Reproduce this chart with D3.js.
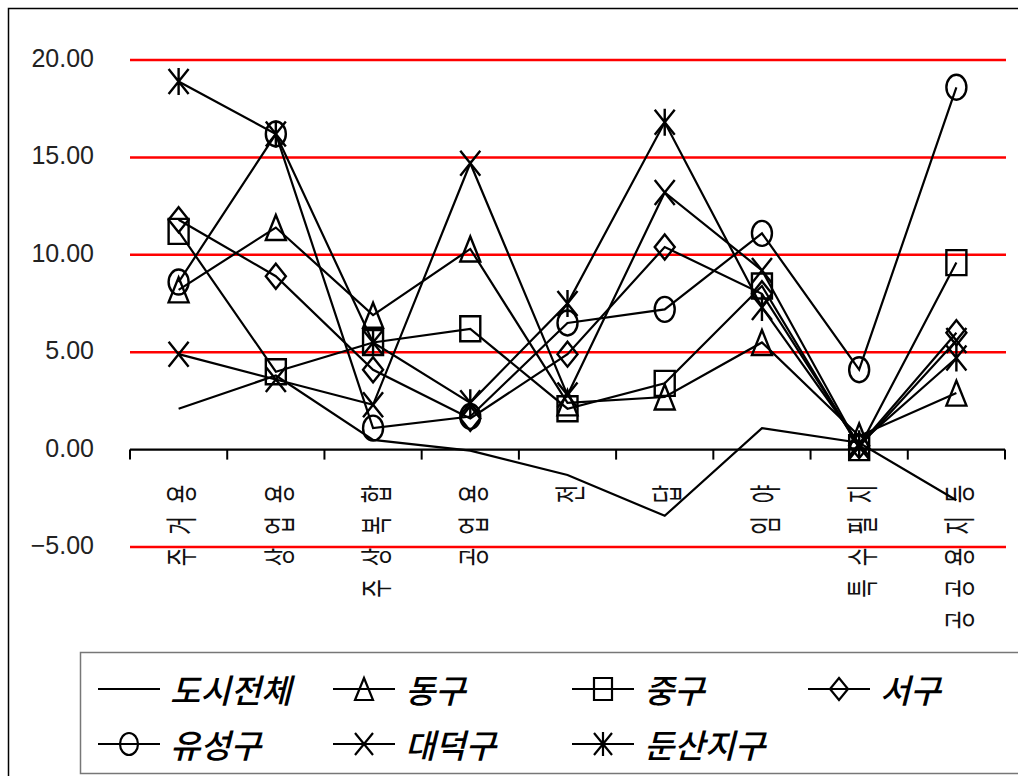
<!DOCTYPE html>
<html>
<head>
<meta charset="utf-8">
<script src="https://cdn.jsdelivr.net/npm/d3@7"></script>
<style>
  body { margin: 0; background: #fff; }
  svg { display: block; }
</style>
</head>
<body>
<svg id="chart" width="1018" height="776"></svg>
<script>
// Land-use categories along the x axis
const categories = ["주거용", "상업용", "주상복합", "공업용", "전", "답", "임야", "특수필지", "공공용지등"];

// Series values per category
const cityTotal = [2.1, 3.8, 0.5, -0.05, -1.3, -3.4, 1.1, 0.35, -2.6];
const donggu    = [8.2, 11.4, 6.9, 10.3, 2.4, 2.7, 5.5, 0.7, 2.9];
const junggu    = [11.2, 4.0, 5.5, 6.2, 2.1, 3.4, 8.4, 0.1, 9.6];
const seogu     = [11.8, 8.9, 4.1, 1.6, 4.9, 10.4, 8.0, 0.2, 6.0];
const yuseonggu = [8.6, 16.2, 1.1, 1.7, 6.5, 7.2, 11.1, 4.1, 18.6];
const daedeokgu = [4.9, 3.6, 2.3, 14.7, 2.8, 13.2, 9.2, 0.15, 5.6];
const dunsan    = [18.9, 16.2, 5.5, 2.4, 7.5, 16.8, 7.3, 0.3, 4.7];

const seriesNames = ["도시전체", "동구", "중구", "서구", "유성구", "대덕구", "둔산지구"];
const markerTypes = ["none", "triangle", "square", "diamond", "circle", "cross", "asterisk"];
const seriesValues = [cityTotal, donggu, junggu, seogu, yuseonggu, daedeokgu, dunsan];

// Value axis ticks
const yTicks = [-5, 0, 5, 10, 15, 20];

const series = seriesNames.map((name, i) => ({
  name, marker: markerTypes[i], values: seriesValues[i]
}));

const svg = d3.select("#chart");

// Outer frame (right and bottom edges run off the canvas)
svg.append("rect")
  .attr("x", 8.5).attr("y", 8.5)
  .attr("width", 1040).attr("height", 800)
  .attr("fill", "none").attr("stroke", "#000").attr("stroke-width", 1.5);

const x = d3.scaleBand().domain(categories).range([130, 1005]);
const y = d3.scaleLinear().domain([-5, 20]).range([547, 60]);
const cx = c => x(c) + x.bandwidth() / 2;

// Red horizontal gridlines (the zero line is the category axis)
svg.append("g").selectAll("line")
  .data(yTicks.filter(t => t !== 0))
  .join("line")
  .attr("x1", 130).attr("x2", 1006)
  .attr("y1", d => y(d)).attr("y2", d => y(d))
  .attr("stroke", "#ff0000").attr("stroke-width", 2.5);

// Value axis labels
const fmt = d3.format(".2f");
svg.append("g").selectAll("text")
  .data(yTicks)
  .join("text")
  .attr("x", 94).attr("y", d => y(d) - 2)
  .attr("text-anchor", "end")
  .attr("dominant-baseline", "central")
  .attr("font-family", "'Liberation Sans', Arial, sans-serif")
  .attr("font-size", 25)
  .attr("fill", "#222")
  .text(d => fmt(d));

// Category axis at zero with boundary ticks
const axisG = svg.append("g").attr("transform", `translate(0,${y(0)})`);
axisG.call(d3.axisBottom(x).tickSize(0).tickFormat(""));
axisG.select(".domain").attr("stroke", "#000").attr("stroke-width", 2.2)
  .attr("d", "M130,0H1005");
const bounds = categories.map(c => x(c)).concat([x(categories[categories.length - 1]) + x.bandwidth()]);
axisG.selectAll(".bound").data(bounds).join("line")
  .attr("class", "bound")
  .attr("x1", d => d).attr("x2", d => d)
  .attr("y1", 0).attr("y2", 10)
  .attr("stroke", "#000").attr("stroke-width", 2);

// Rotated category labels, reading bottom to top
const ls = 18;
svg.append("g").selectAll("text")
  .data(categories)
  .join("text")
  .attr("transform", d => `translate(${cx(d) + 1},484) rotate(-90) scale(0.72,1.12)`)
  .attr("x", ls - 1)
  .attr("text-anchor", "end")
  .attr("dominant-baseline", "central")
  .attr("font-family", "'Noto Sans CJK KR', sans-serif")
  .attr("font-size", 28)
  .attr("letter-spacing", ls)
  .attr("fill", "#111")
  .text(d => d);

// Marker shapes
const MW = 20, MH = 25;
function markerPath(type, w = MW, h = MH) {
  const a = w / 2, b = h / 2;
  switch (type) {
    case "triangle": return `M0,${-b}L${a},${b}L${-a},${b}Z`;
    case "square": return `M${-a},${-b}H${a}V${b}H${-a}Z`;
    case "diamond": return `M0,${-b}L${a},0L0,${b}L${-a},0Z`;
    case "circle": return `M${-a},0A${a},${b} 0 1,0 ${a},0A${a},${b} 0 1,0 ${-a},0Z`;
    case "cross": return `M${-a},${-b}L${a},${b}M${a},${-b}L${-a},${b}`;
    case "asterisk": return `M${-a},${-b}L${a},${b}M${a},${-b}L${-a},${b}M0,${-b - 1}V${b + 1}`;
    default: return "";
  }
}

const line = d3.line()
  .x((d, i) => cx(categories[i]))
  .y(d => y(d));

const plot = svg.append("g");
series.forEach(s => {
  plot.append("path")
    .attr("d", line(s.values))
    .attr("fill", "none")
    .attr("stroke", "#000")
    .attr("stroke-width", 2.2)
    .attr("stroke-linejoin", "miter");
});
series.forEach(s => {
  if (s.marker === "none") return;
  plot.append("g").selectAll("path")
    .data(s.values)
    .join("path")
    .attr("transform", (d, i) => `translate(${cx(categories[i])},${y(d)})`)
    .attr("d", markerPath(s.marker))
    .attr("fill", "none")
    .attr("stroke", "#000")
    .attr("stroke-width", 2.4);
});

// Legend
const legend = svg.append("g");
legend.append("rect")
  .attr("x", 80.5).attr("y", 652.5)
  .attr("width", 1000).attr("height", 121)
  .attr("fill", "#fff").attr("stroke", "#777").attr("stroke-width", 1.5);

const colX = [98, 333, 572, 808];
const rowY = [689, 744];
series.forEach((s, i) => {
  const lx = colX[i % 4], ly = rowY[Math.floor(i / 4)];
  const g = legend.append("g").attr("transform", `translate(${lx},${ly})`);
  g.append("line").attr("x1", 0).attr("x2", 62).attr("y1", 0).attr("y2", 0)
    .attr("stroke", "#000").attr("stroke-width", 2.2);
  if (s.marker !== "none") {
    g.append("path").attr("transform", "translate(31,0)")
      .attr("d", markerPath(s.marker, 18, 22))
      .attr("fill", "none").attr("stroke", "#000").attr("stroke-width", 2.2);
  }
  g.append("text")
    .attr("x", 72).attr("y", 0)
    .attr("dominant-baseline", "central")
    .attr("font-family", "'Noto Sans CJK KR', sans-serif")
    .attr("font-size", 33)
    .attr("font-style", "italic")
    .attr("font-weight", 500)
    .attr("fill", "#000")
    .text(s.name);
});
</script>
</body>
</html>
